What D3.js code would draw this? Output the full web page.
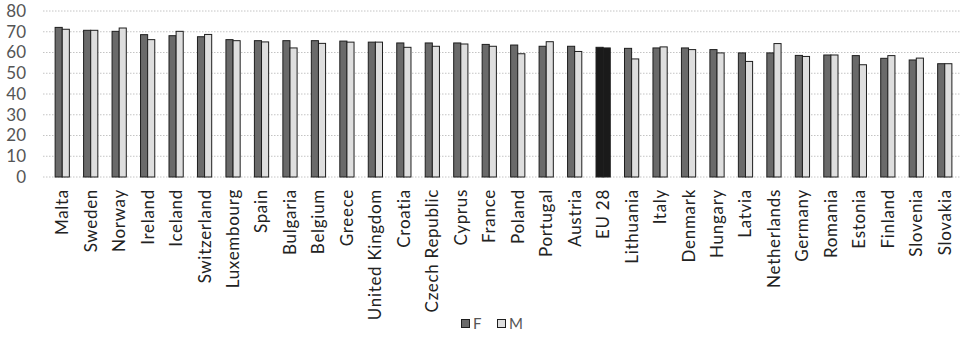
<!DOCTYPE html>
<html><head><meta charset="utf-8">
<script src="https://cdn.jsdelivr.net/npm/d3@7"></script>
<style>body{margin:0;background:#fff;} svg{display:block;}</style>
</head><body><svg id="c" width="966" height="337"></svg>
<script>
const categories = ["Malta","Sweden","Norway","Ireland","Iceland","Switzerland","Luxembourg","Spain","Bulgaria","Belgium","Greece","United Kingdom","Croatia","Czech Republic","Cyprus","France","Poland","Portugal","Austria","EU 28","Lithuania","Italy","Denmark","Hungary","Latvia","Netherlands","Germany","Romania","Estonia","Finland","Slovenia","Slovakia"];
const valuesF = [72.1,70.7,70.2,68.6,68.1,67.6,66.2,65.7,65.7,65.7,65.5,65.0,64.6,64.6,64.6,63.9,63.6,63.0,63.0,62.5,62.0,62.2,62.2,61.4,59.8,59.8,58.6,58.8,58.5,57.2,56.4,54.6];
const valuesM = [71.2,70.7,71.8,66.2,70.2,68.7,65.7,65.1,62.2,64.4,65.0,65.0,62.5,63.0,64.1,63.0,59.4,65.2,60.5,62.2,56.9,62.7,61.4,59.8,55.7,64.3,58.1,58.8,54.1,58.5,57.3,54.6];
const seriesNames = ["F","M"];
const yTicks = [0,10,20,30,40,50,60,70,80];

const svg = d3.select("#c");
const font = "Lato, 'Open Sans', sans-serif";
const x = d3.scaleBand().domain(categories).range([48, 959]).paddingInner(0.5).paddingOuter(0.25);
const y = d3.scaleLinear().domain([0,80]).range([177, 11]);
const xs = d3.scaleBand().domain(seriesNames).range([0, x.bandwidth()]);

// gridlines
svg.append("g").selectAll("line").data(yTicks).join("line")
  .attr("x1", 43).attr("x2", 960)
  .attr("y1", d => y(d)).attr("y2", d => y(d))
  .attr("stroke", "#c4c4c4").attr("stroke-width", 1).attr("stroke-dasharray", "1.5,1.5");

// y axis labels
const yAxis = d3.axisLeft(y).tickValues(yTicks).tickSize(0).tickPadding(0);
const gy = svg.append("g").attr("transform", "translate(26,0)").call(yAxis);
gy.select(".domain").remove();
gy.selectAll("text").attr("font-family", font).attr("font-size", 17).attr("fill", "#555");

// bars
const data = categories.map((c,i) => ({c, F: valuesF[i], M: valuesM[i]}));
const g = svg.append("g");
data.forEach(d => {
  seriesNames.forEach(s => {
    const isEU = d.c === "EU 28";
    g.append("rect")
      .attr("x", x(d.c) + xs(s))
      .attr("y", y(d[s]))
      .attr("width", xs.bandwidth())
      .attr("height", y(0) - y(d[s]))
      .attr("fill", isEU ? "#1a1a1a" : (s === "F" ? "#6a6a6a" : "#dedede"))
      .attr("stroke", "#1e1e1e").attr("stroke-width", 1);
  });
});

// x axis labels
const xAxis = d3.axisBottom(x).tickSize(0).tickPadding(0);
const gx = svg.append("g").attr("transform", "translate(0,189)").call(xAxis);
gx.select(".domain").remove();
gx.selectAll("text")
  .attr("font-family", font).attr("font-size", 17).attr("fill", "#222")
  .attr("letter-spacing", "0.7px")
  .attr("transform", "rotate(-90)")
  .attr("text-anchor", "end").attr("dy", "0.35em").attr("x", 0).attr("y", 0);

// legend
const leg = svg.append("g").attr("transform", "translate(461,319)");
seriesNames.forEach((s,i) => {
  const lg = leg.append("g").attr("transform", `translate(${i*36},0)`);
  lg.append("rect").attr("width", 8).attr("height", 8).attr("x", 0.5).attr("y", 0.5)
    .attr("fill", s === "F" ? "#6a6a6a" : "#dedede").attr("stroke", "#1e1e1e");
  lg.append("text").attr("x", 12).attr("y", 9.5).attr("font-family", font).attr("font-size", 15)
    .attr("fill", "#555").text(s);
});
</script></body></html>
